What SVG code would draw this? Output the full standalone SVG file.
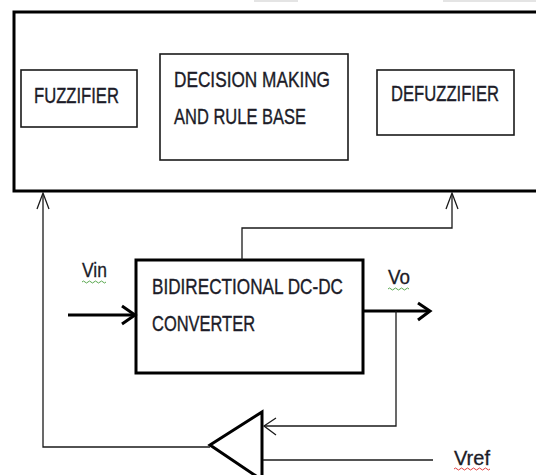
<svg xmlns="http://www.w3.org/2000/svg" width="536" height="475" viewBox="0 0 536 475">
<style>
.t{font-family:"Liberation Sans",Arial,sans-serif;font-size:23px;fill:#1c1c28;stroke:#1c1c28;stroke-width:0.4}
.s{font-family:"Liberation Sans",Arial,sans-serif;font-size:20px;fill:#1c1c28;stroke:#1c1c28;stroke-width:0.3}
.box{fill:#fff;stroke:#1a1a1a;stroke-width:1.6}
.thick{fill:none;stroke:#000;stroke-width:3}
.thin{fill:none;stroke:#1a1a1a;stroke-width:1.3}
.wg{fill:none;stroke:#5aa850;stroke-width:1}
.wr{fill:none;stroke:#e04040;stroke-width:1}
</style>
<rect width="536" height="475" fill="#fff"/>
<rect x="254" y="0" width="44" height="2" fill="#e4e4e4"/>
<rect x="443" y="0" width="93" height="2" fill="#e4e4e4"/>
<g id="controller">
<polyline points="537,12 14,12 14,191 537,191" class="thick"/>
</g>
<g id="fuzzifier">
<rect x="21" y="70" width="116" height="57" class="box"/>
<text transform="translate(34,103) scale(0.725,1)" class="t" textLength="117.2" lengthAdjust="spacingAndGlyphs">FUZZIFIER</text>
</g>
<g id="decision">
<rect x="160" y="54" width="188" height="106" class="box"/>
<text transform="translate(174,87) scale(0.725,1)" class="t" textLength="215.2" lengthAdjust="spacingAndGlyphs">DECISION MAKING</text>
<text transform="translate(174,124) scale(0.725,1)" class="t" textLength="182.1" lengthAdjust="spacingAndGlyphs">AND RULE BASE</text>
</g>
<g id="defuzzifier">
<rect x="377" y="70" width="137" height="65" class="box"/>
<text transform="translate(391,101) scale(0.725,1)" class="t" textLength="149" lengthAdjust="spacingAndGlyphs">DEFUZZIFIER</text>
</g>
<g id="converter">
<rect x="136" y="260" width="227" height="113" class="thick"/>
<text transform="translate(152,294) scale(0.725,1)" class="t" textLength="263.4" lengthAdjust="spacingAndGlyphs">BIDIRECTIONAL DC-DC</text>
<text transform="translate(152,331) scale(0.725,1)" class="t" textLength="142.1" lengthAdjust="spacingAndGlyphs">CONVERTER</text>
</g>
<g id="comparator">
<polygon points="210,445 262,412 262,480" class="thick"/>
</g>
<g id="labels">
<text transform="translate(82,277) scale(0.88,1)" class="s" textLength="28.4" lengthAdjust="spacingAndGlyphs">Vin</text>
<path d="M82,282 q1.5,-2 3,0 t3,0 t3,0 t3,0 t3,0 t3,0 t3,0 t3,0" class="wg"/>
<text transform="translate(388,284) scale(0.88,1)" class="s" textLength="25" lengthAdjust="spacingAndGlyphs">Vo</text>
<path d="M388,289 q1.5,-2 3,0 t3,0 t3,0 t3,0 t3,0 t3,0 t3,0" class="wg"/>
<text x="454" y="465" class="s" textLength="36" lengthAdjust="spacingAndGlyphs">Vref</text>
<path d="M454,469 q1.5,-2 3,0 t3,0 t3,0 t3,0 t3,0 t3,0 t3,0 t3,0 t3,0 t3,0 t3,0 t3,0" class="wr"/>
</g>
<g id="connectors">
<polyline points="210,447 43,447 43,194" class="thin"/>
<polyline points="37,209 43,193 49,209" class="thin"/>
<polyline points="242,260 242,228 452,228 452,194" class="thin"/>
<polyline points="446,209 452,193 458,209" class="thin"/>
<line x1="68" y1="315" x2="135" y2="315" class="thick"/>
<polyline points="122,306 135,315 122,324" class="thick"/>
<line x1="363" y1="311" x2="429" y2="311" class="thick"/>
<polyline points="418,303 430,311 418,320" class="thick"/>
<polyline points="396,311 396,426 264,426" class="thin"/>
<polyline points="276,418 264,426 276,435" class="thin"/>
<line x1="263" y1="460" x2="433" y2="460" class="thin"/>
</g>
</svg>
